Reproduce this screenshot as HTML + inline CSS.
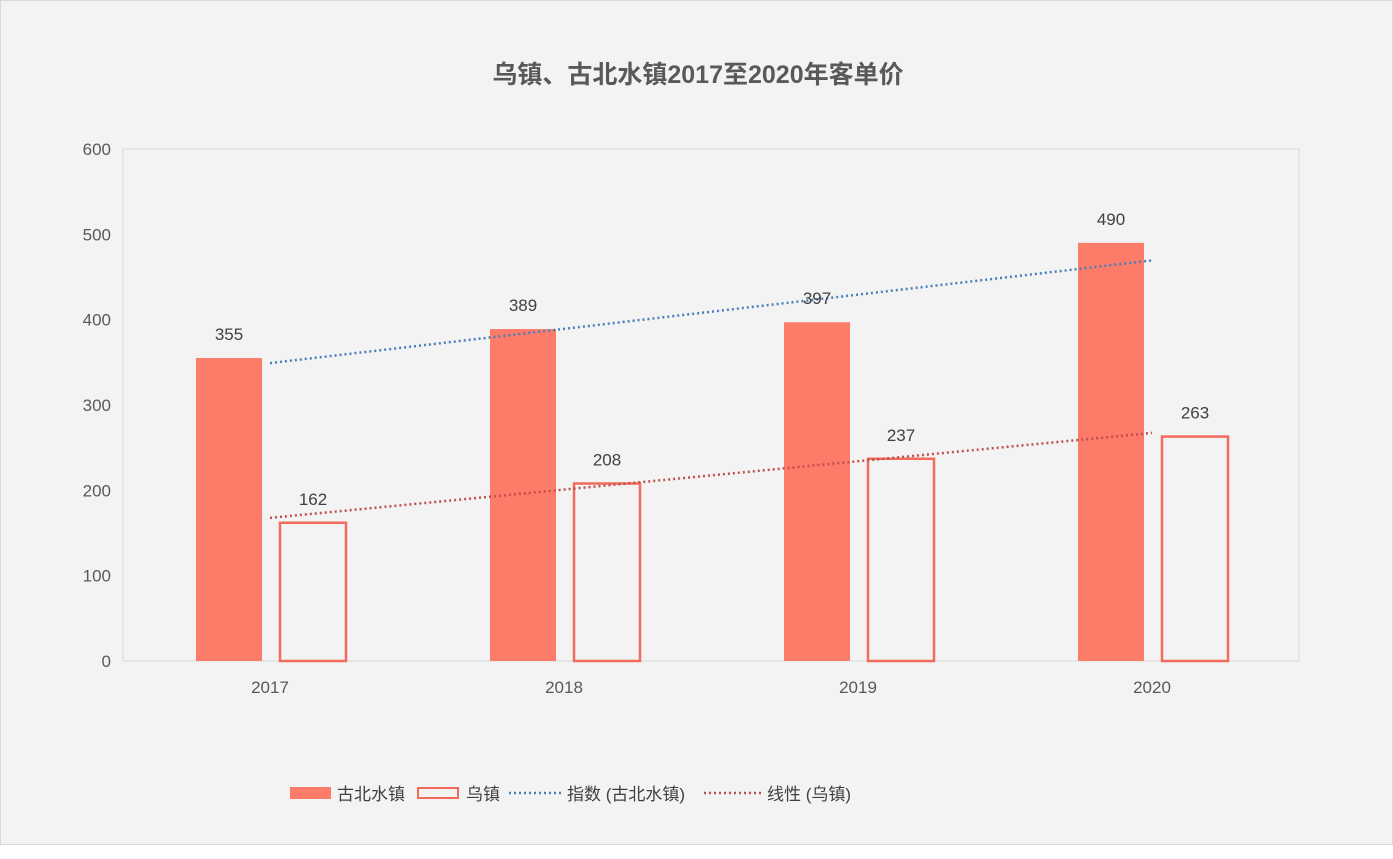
<!DOCTYPE html>
<html><head><meta charset="utf-8">
<style>
body{margin:0;background:#fff;}
#wrap{position:relative;width:1391px;height:843px;background:#f3f3f3;border:1px solid #d9d9d9;overflow:hidden;}
svg text{font-family:"Liberation Sans","Noto Sans CJK SC",sans-serif;}
</style></head><body>
<div id="wrap">
<svg id="chart" width="1393" height="859">
<text x="697" y="82" text-anchor="middle" font-size="25" font-weight="bold" fill="#595959">乌镇、古北水镇2017至2020年客单价</text>
<rect x="122" y="148" width="1176" height="512" fill="none" stroke="#d9d9d9"/>
<g id="yticks"></g><g id="xticks"></g><g id="bars"></g><g id="trends"></g><g id="labels"></g>
<g>
<rect x="289" y="786" width="41" height="12" fill="#fd7b69"/>
<text x="336" y="799" font-size="17" fill="#404040">古北水镇</text>
<rect x="417" y="787" width="40" height="10" fill="none" stroke="#f36b5a" stroke-width="2"/>
<text x="465" y="799" font-size="17" fill="#404040">乌镇</text>
<line x1="508" y1="792" x2="560" y2="792" stroke="#4a7ebb" stroke-width="2.5" stroke-dasharray="2,3"/>
<text x="566" y="799" font-size="17" fill="#404040">指数 (古北水镇)</text>
<line x1="703" y1="792" x2="760" y2="792" stroke="#c0504d" stroke-width="2.5" stroke-dasharray="2,3"/>
<text x="766" y="799" font-size="17" fill="#404040">线性 (乌镇)</text>
</g>
</svg>
</div>
<script>
const categories=["2017","2018","2019","2020"];
const gubei=[355,389,397,490];
const wuzhen=[162,208,237,263];
const yTicks=[0,100,200,300,400,500,600];
const NS="http://www.w3.org/2000/svg";
const X0=122,W=1176,Y0=660,H=512,YMAX=600;
const y=v=>Y0-v/YMAX*H;
const cx=i=>X0+W/categories.length*(i+0.5);
function mk(tag,attrs,parent){const e=document.createElementNS(NS,tag);for(const k in attrs)e.setAttribute(k,attrs[k]);document.getElementById(parent).appendChild(e);return e;}
yTicks.forEach(t=>{const e=mk('text',{x:110,y:y(t)+6,'text-anchor':'end','font-size':17,fill:'#595959'},'yticks');e.textContent=t;

});
categories.forEach((c,i)=>{const e=mk('text',{x:cx(i),y:692,'text-anchor':'middle','font-size':17,fill:'#595959'},'xticks');e.textContent=c;


const b=mk('rect',{x:cx(i)-74,y:y(gubei[i]),width:66,height:Y0-y(gubei[i]),fill:'#fd7b69'},'bars');


const h=mk('rect',{x:cx(i)+10,y:y(wuzhen[i]),width:66,height:Y0-y(wuzhen[i]),fill:'none',stroke:'#f36b5a','stroke-width':2.5},'bars');


const l1=mk('text',{x:cx(i)-41,y:y(gubei[i])-18,'text-anchor':'middle','font-size':17,fill:'#404040'},'labels');l1.textContent=gubei[i];


const l2=mk('text',{x:cx(i)+43,y:y(wuzhen[i])-18,'text-anchor':'middle','font-size':17,fill:'#404040'},'labels');l2.textContent=wuzhen[i];

});
// trendlines
const n=categories.length,xs=categories.map((_,i)=>i),mx=(n-1)/2;
const sxx=xs.reduce((s,x)=>s+(x-mx)**2,0);
const lg=gubei.map(Math.log),mlg=lg.reduce((a,b)=>a+b)/n;
const be=xs.reduce((s,x,i)=>s+(x-mx)*(lg[i]-mlg),0)/sxx;
const mw=wuzhen.reduce((a,b)=>a+b)/n;
const bl=xs.reduce((s,x,i)=>s+(x-mx)*(wuzhen[i]-mw),0)/sxx;
const expF=x=>Math.exp(mlg+be*(x-mx)),linF=x=>mw+bl*(x-mx);
const t1=mk('line',{x1:cx(0),y1:y(expF(0)),x2:cx(n-1),y2:y(expF(n-1)),stroke:'#4a7ebb','stroke-width':2.5,'stroke-dasharray':'2,3'},'trends');


const t2=mk('line',{x1:cx(0),y1:y(linF(0)),x2:cx(n-1),y2:y(linF(n-1)),stroke:'#c0504d','stroke-width':2.5,'stroke-dasharray':'2,3'},'trends');


</script>
</body></html>
